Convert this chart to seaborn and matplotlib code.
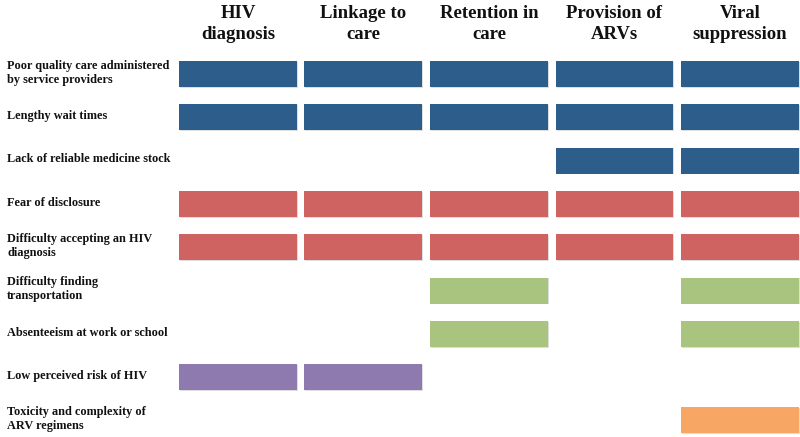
import matplotlib
matplotlib.use("Agg")
import matplotlib.pyplot as plt
import seaborn as sns

stages = ["HIV\ndiagnosis", "Linkage to\ncare", "Retention in\ncare", "Provision of\nARVs", "Viral\nsuppression"]
barriers = [
    "Poor quality care administered\nby service providers",
    "Lengthy wait times",
    "Lack of reliable medicine stock",
    "Fear of disclosure",
    "Difficulty accepting an HIV\ndiagnosis",
    "Difficulty finding\ntransportation",
    "Absenteeism at work or school",
    "Low perceived risk of HIV",
    "Toxicity and complexity of\nARV regimens",
]
# which stages each barrier affects (1 = yes)
presence = [
    [1, 1, 1, 1, 1],
    [1, 1, 1, 1, 1],
    [0, 0, 0, 1, 1],
    [1, 1, 1, 1, 1],
    [1, 1, 1, 1, 1],
    [0, 0, 1, 0, 1],
    [0, 0, 1, 0, 1],
    [1, 1, 0, 0, 0],
    [0, 0, 0, 0, 1],
]
groups = ["health system", "health system", "health system", "psychosocial", "psychosocial",
          "structural", "structural", "knowledge", "medication"]
palette = {
    "health system": "#2c5d8b",
    "psychosocial": "#cf6361",
    "structural": "#a9c47e",
    "knowledge": "#8f7ab0",
    "medication": "#f8a663",
}

sns.set_style("white")
plt.rcParams["font.family"] = ["Liberation Serif", "DejaVu Serif"]

fig = plt.figure(figsize=(8, 4.37), dpi=100)
ax = fig.add_axes([0, 0, 1, 1])
ax.set_xlim(-1.896, 4.478)
ax.set_ylim(8.383, -1.709)
ax.axis("off")

for j, (name, row, grp) in enumerate(zip(barriers, presence, groups)):
    ax.text(-1.84, j - 0.03, name, ha="left", va="center", fontsize=8.8,
            fontweight="bold", linespacing=1.2, color="#111111")
    for i, v in enumerate(row):
        if v:
            # faint drop shadow
            ax.bar(i + 0.008, 0.6, width=0.94, bottom=j - 0.28, color="#c8c8c8",
                   alpha=0.6, linewidth=0)
            ax.bar(i, 0.6, width=0.94, bottom=j - 0.3, color=palette[grp],
                   linewidth=0)

for i, s in enumerate(stages):
    ax.text(i, -1.15, s, ha="center", va="center", fontsize=13.5,
            fontweight="bold", linespacing=1.35, color="#111111")

fig.savefig("out.png", dpi=100)
